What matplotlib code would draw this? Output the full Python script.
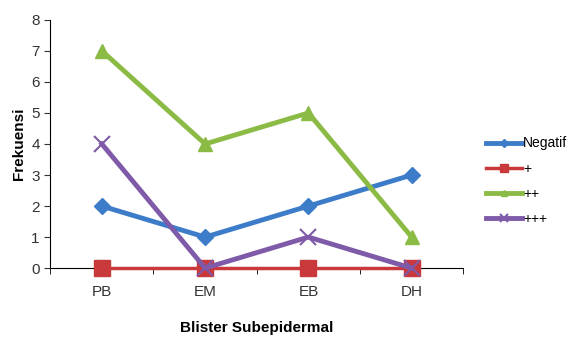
import matplotlib.pyplot as plt
import numpy as np

plt.rcParams["font.family"] = ["Liberation Sans", "DejaVu Sans"]

categories = ["PB", "EM", "EB", "DH"]
negatif = [2, 1, 2, 3]
plus1 = [0, 0, 0, 0]
plus2 = [7, 4, 5, 1]
plus3 = [4, 0, 1, 0]

fig = plt.figure(figsize=(5.77, 3.42), dpi=100)
ax = fig.add_axes([0.087, 0.216, 0.716, 0.726])

x = np.arange(len(categories))
ax.plot(x, negatif, color="#3d7cc9", lw=3.5, marker="D", ms=8, label="Negatif", clip_on=False, zorder=3)
ax.plot(x, plus1, color="#c9383a", lw=2.5, marker="s", ms=11, label="+", clip_on=False, zorder=3)
ax.plot(x, plus2, color="#8cbb45", lw=3.5, marker="^", ms=10, label="++", clip_on=False, zorder=3)
ax.plot(x, plus3, color="#7e5aa8", lw=3.5, marker="x", ms=11, mew=1.5, label="+++", clip_on=False, zorder=4)

ax.set_xlim(-0.5, 3.5)
ax.set_ylim(0, 8)
ax.set_yticks(range(9))
ax.set_xticks(x)
ax.set_xticklabels(categories)
ax.set_xticks(np.arange(-0.5, 4, 1), minor=True)
ax.tick_params(axis="x", which="major", length=0, pad=12)
ax.tick_params(axis="x", which="minor", length=4, direction="out")
ax.tick_params(axis="y", length=4, direction="out")
ax.tick_params(labelsize=11, colors="#333333")
for s in ["top", "right"]:
    ax.spines[s].set_visible(False)

ax.set_ylabel("Frekuensi", fontweight="bold", fontsize=11)
ax.set_xlabel("Blister Subepidermal", fontweight="bold", fontsize=11, labelpad=16)

fig.legend(loc="upper left", bbox_to_anchor=(0.842, 0.601), frameon=False,
           fontsize=10, handlelength=2.6, handletextpad=0.1, labelspacing=0.8,
           borderpad=0, borderaxespad=0, markerscale=0.5)

fig.savefig("out.png", dpi=100)
